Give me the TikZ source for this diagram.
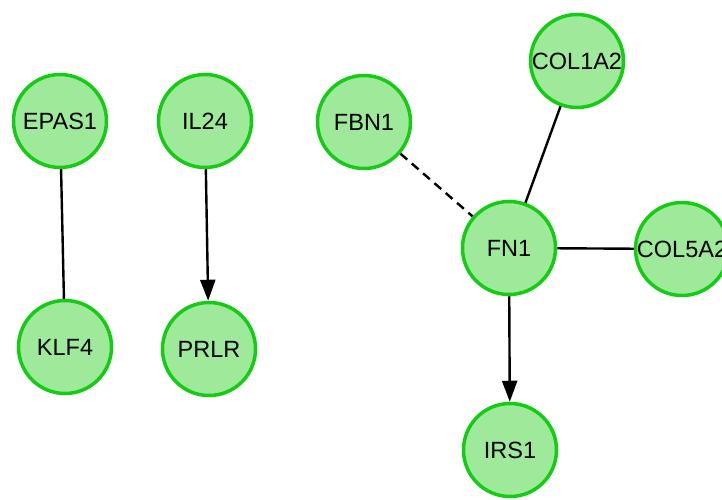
\documentclass[tikz,border=0pt]{standalone}
\usepackage{fontspec}
\setmainfont{Liberation Sans}
\usetikzlibrary{arrows.meta}
\definecolor{nodefill}{RGB}{158,234,154}
\definecolor{nodeline}{RGB}{20,204,20}
\tikzset{
  gene/.style={circle, draw=nodeline, fill=nodefill, line width=3.5pt, minimum size=93pt, inner sep=0pt, font=\fontsize{23.5pt}{25pt}\selectfont, text=black},
  link/.style={line width=2.4pt, black},
  dashlink/.style={link, dash pattern=on 9pt off 6pt},
  arrowlink/.style={link, -{Triangle[length=21pt,width=15pt]}}
}
\begin{document}
\begin{tikzpicture}[x=1pt,y=-1pt]
\useasboundingbox (0,0) rectangle (722,500);
\clip (0,0) rectangle (722,500);
\node[gene] (EPAS1) at (60,121) {EPAS1};
\node[gene] (IL24) at (205,121) {IL24};
\node[gene] (FBN1) at (364,122) {FBN1};
\node[gene] (COL1A2) at (577,61) {COL1A2};
\node[gene] (FN1) at (509,248) {FN1};
\node[gene] (COL5A2) at (682,249) {COL5A2};
\node[gene] (KLF4) at (65,347) {KLF4};
\node[gene] (PRLR) at (209,349) {PRLR};
\node[gene] (IRS1) at (510,450) {IRS1};
\draw[link] (EPAS1) -- (KLF4);
\draw[arrowlink] (IL24) -- (PRLR);
\draw[dashlink] (FBN1) -- (FN1);
\draw[link] (FN1) -- (COL1A2);
\draw[link] (FN1) -- (COL5A2);
\draw[arrowlink] (FN1) -- (IRS1);
\end{tikzpicture}
\end{document}
